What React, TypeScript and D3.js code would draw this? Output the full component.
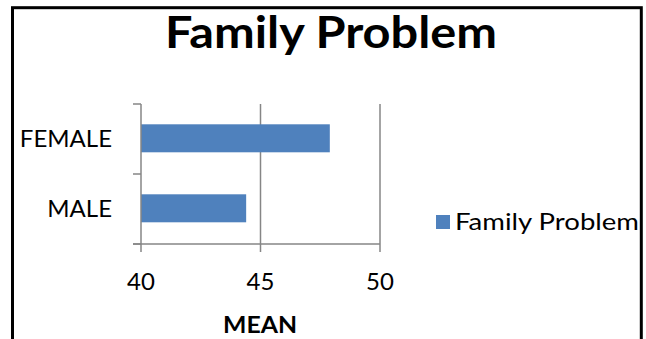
import React from "react";
import * as d3 from "d3";

const categories = ["FEMALE", "MALE"];
const meanValues = [47.9, 44.4];
const xTicks = [40, 45, 50];
const seriesName = "Family Problem";
const chartTitle = "Family Problem";
const xAxisTitle = "MEAN";

const W = 646;
const H = 339;
const FONT = "Lato, 'Open Sans', 'DejaVu Sans', sans-serif";
const BAR = "#4F81BD";
const GRID = "#868686";

export default function App() {
  const x = d3.scaleLinear().domain([40, 50]).range([141, 380]);
  const y = d3
    .scaleBand<string>()
    .domain(categories)
    .range([104, 244])
    .paddingInner(0.6)
    .paddingOuter(0.3);
  const step = y.step();
  const [y0, y1] = y.range();
  const catTicks = d3.range(categories.length + 1).map((i) => y0 + i * step);
  const tick = 8;

  return (
    <svg
      width={W}
      height={H}
      style={{ position: "absolute", left: 0, top: 0, background: "#fff" }}
      fontFamily={FONT}
    >
      <rect x={12.5} y={7.7} width={628.8} height={400} fill="none" stroke="#000" strokeWidth={3} />

      <text
        x={165}
        y={47.5}
        fontWeight="bold"
        fontSize={43}
        fill="#000"
        textLength={332}
        lengthAdjust="spacingAndGlyphs"
      >
        {chartTitle}
      </text>

      {/* vertical gridlines */}
      {xTicks.slice(1).map((t) => (
        <line key={`g${t}`} x1={x(t)} x2={x(t)} y1={y0} y2={y1} stroke={GRID} strokeWidth={1.5} />
      ))}

      {/* bars */}
      {categories.map((c, i) => (
        <rect
          key={c}
          x={x(40)}
          y={(y(c) as number) - 0.7}
          width={x(meanValues[i]) - x(40)}
          height={y.bandwidth()}
          fill={BAR}
        />
      ))}

      {/* category axis */}
      <line x1={x(40)} x2={x(40)} y1={y0} y2={y1} stroke={GRID} strokeWidth={1.5} />
      {catTicks.map((v, i) => (
        <line key={`ct${i}`} x1={x(40) - tick} x2={x(40)} y1={v} y2={v} stroke={GRID} strokeWidth={1.5} />
      ))}
      {categories.map((c) => (
        <text
          key={`cl${c}`}
          x={112}
          y={(y(c) as number) + y.bandwidth() / 2}
          dy="0.35em"
          textAnchor="end"
          fontSize={24}
          fill="#000"
        >
          {c}
        </text>
      ))}

      {/* value axis */}
      <line x1={x(40) - tick} x2={x(50)} y1={y1} y2={y1} stroke={GRID} strokeWidth={1.5} />
      {xTicks.map((t) => (
        <g key={`xt${t}`}>
          <line x1={x(t)} x2={x(t)} y1={y1} y2={y1 + tick} stroke={GRID} strokeWidth={1.5} />
          <text x={x(t)} y={290} textAnchor="middle" fontSize={24} fill="#000">
            {t}
          </text>
        </g>
      ))}
      <text
        x={223}
        y={333}
        fontWeight="bold"
        fontSize={22}
        fill="#000"
        textLength={74}
        lengthAdjust="spacingAndGlyphs"
      >
        {xAxisTitle}
      </text>

      {/* legend */}
      <rect x={436} y={215} width={14} height={14} fill={BAR} />
      <text
        x={455}
        y={229.5}
        fontSize={23.5}
        fill="#000"
        textLength={184}
        lengthAdjust="spacingAndGlyphs"
      >
        {seriesName}
      </text>
    </svg>
  );
}
